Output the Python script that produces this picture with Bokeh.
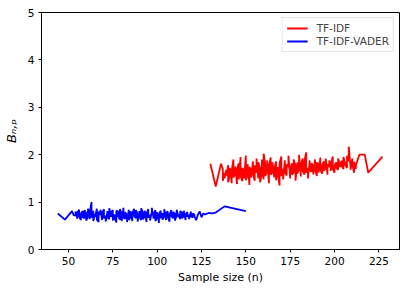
from bokeh.plotting import figure
from bokeh.models import Range1d, FixedTicker, Legend, LegendItem
from bokeh.embed import file_html
from bokeh.resources import INLINE

# TF-IDF-VADER (blue): two runs per sample size in the dense part
blue_n_dense = list(range(54, 122))
blue_x = [44, 48, 52, 53] + [n for n in blue_n_dense for _ in (0, 1)] + \
         [122, 123, 124, 125, 126, 127, 129, 131, 133, 138, 150]
blue_y = [0.76, 0.63, 0.81, 0.72,
          0.72, 0.80, 0.65, 0.78, 0.84, 0.70, 0.62, 0.76, 0.81, 0.68, 0.66, 0.83, 0.77, 0.61, 0.70, 0.86, 0.64, 0.79, 1.00, 0.67,
          0.82, 0.60, 0.75, 0.69, 0.86, 0.63, 0.58, 0.80, 0.73, 0.84, 0.62, 0.77, 0.85, 0.66, 0.71, 0.59, 0.81, 0.68, 0.64, 0.87,
          0.69, 0.78, 0.83, 0.61, 0.74, 0.66, 0.57, 0.82, 0.80, 0.70, 0.63, 0.85, 0.76, 0.60, 0.88, 0.67, 0.65, 0.79, 0.72, 0.58,
          0.84, 0.62, 0.68, 0.81, 0.60, 0.77, 0.86, 0.71, 0.66, 0.83, 0.75, 0.59, 0.81, 0.69, 0.62, 0.87, 0.78, 0.64, 0.70, 0.82,
          0.58, 0.76, 0.85, 0.67, 0.73, 0.61, 0.80, 0.88, 0.65, 0.72, 0.83, 0.60, 0.69, 0.79, 0.56, 0.74, 0.82, 0.66, 0.77, 0.63,
          0.71, 0.85, 0.62, 0.78, 0.80, 0.68, 0.59, 0.74, 0.83, 0.70, 0.66, 0.79, 0.76, 0.61, 0.72, 0.84, 0.68, 0.75, 0.64, 0.81,
          0.78, 0.66, 0.70, 0.82, 0.62, 0.74, 0.79, 0.69, 0.73, 0.64, 0.80, 0.71, 0.67, 0.76, 0.74, 0.70,
          0.62, 0.74, 0.80, 0.68, 0.76, 0.74, 0.77, 0.76, 0.78, 0.91, 0.81]

# TF-IDF (red)
red_n_dense = list(range(137, 213))
red_x = [130, 133, 136] + [n for n in red_n_dense for _ in (0, 1)] + [214, 217, 219, 227]
red_y = [1.81, 1.33, 1.81,
         1.70, 1.45, 1.62, 1.50, 1.68, 1.56, 1.78, 1.42, 1.58, 1.72, 1.40, 1.66, 1.90, 1.52, 1.60, 1.75, 1.38, 1.70, 1.82, 1.48,
         1.95, 1.55, 1.44, 1.72, 1.65, 1.50, 1.98, 1.46, 1.58, 1.80, 1.36, 1.74, 1.68, 1.52, 1.86, 1.60, 1.45, 1.78, 1.62, 1.92,
         1.50, 1.84, 1.72, 1.42, 1.58, 1.90, 1.48, 2.02, 1.80, 1.55, 1.66, 1.88, 1.40, 1.76, 1.94, 1.58, 1.62, 1.84, 1.52, 1.70,
         1.86, 1.46, 1.74, 1.60, 1.35, 1.82, 1.96, 1.55, 1.70, 1.48, 1.88, 1.64, 1.56, 1.80, 1.74, 1.98, 1.50, 1.68, 1.82, 1.58,
         1.62, 1.90, 1.76, 1.45, 1.84, 1.60, 1.70, 2.00, 1.54, 1.78, 1.92, 1.66, 1.58, 1.86, 2.05, 1.62, 1.72, 1.50, 1.88, 1.68,
         1.64, 1.82, 1.76, 1.58, 1.90, 1.70, 1.55, 1.84, 1.80, 1.62, 1.94, 1.68, 1.60, 1.78, 1.86, 1.66, 1.72, 1.92, 1.58, 1.80,
         1.74, 1.88, 1.66, 1.82, 1.96, 1.70, 1.62, 1.78, 1.84, 1.72, 1.68, 1.92, 1.80, 1.74, 1.88, 1.76, 1.70, 1.95, 1.82, 1.78,
         1.72, 1.98, 1.86, 2.17, 1.75, 1.68, 1.92, 1.80, 1.62, 1.85, 1.70, 1.78,
         2.00, 2.00, 1.62, 1.96]

x_ticks = [50, 75, 100, 125, 150, 175, 200, 225]
y_ticks = [0, 1, 2, 3, 4, 5]

FONT = "DejaVu Sans"

p = figure(width=407, height=290, output_backend="svg", toolbar_location=None,
           x_range=Range1d(34.8, 236.6), y_range=Range1d(0, 5),
           min_border_left=39, min_border_right=8, min_border_top=12, min_border_bottom=41)
p.background_fill_color = "white"
p.border_fill_color = "white"
p.outline_line_color = "black"
p.outline_line_width = 1
p.grid.visible = False

r_red = p.line(red_x, red_y, line_color="red", line_width=1.8)
r_blue = p.line(blue_x, blue_y, line_color="blue", line_width=1.8)

for ax in (p.xaxis[0], p.yaxis[0]):
    ax.axis_line_color = "black"
    ax.major_tick_line_color = "black"
    ax.major_tick_out = 3
    ax.major_tick_in = 0
    ax.minor_tick_line_color = None
    ax.major_label_text_font = FONT
    ax.major_label_text_font_size = "10.5px"
    ax.major_label_text_color = "black"
    ax.axis_label_text_font = FONT
    ax.axis_label_text_font_size = "11px"
    ax.axis_label_text_font_style = "normal"
    ax.axis_label_text_color = "black"

p.xaxis[0].ticker = FixedTicker(ticks=x_ticks)
p.yaxis[0].ticker = FixedTicker(ticks=y_ticks)
p.xaxis[0].axis_label = "Sample size (n)"
p.xaxis[0].axis_label_standoff = 3
p.xaxis[0].major_label_standoff = 4
p.yaxis[0].axis_label = "Bₙ,ₚ"
p.yaxis[0].axis_label_text_font_style = "italic"
p.yaxis[0].axis_label_text_font_size = "13px"
p.yaxis[0].axis_label_standoff = 6
p.yaxis[0].major_label_standoff = 4

legend = Legend(items=[LegendItem(label="TF-IDF", renderers=[r_red]),
                       LegendItem(label="TF-IDF-VADER", renderers=[r_blue])],
                location="top_right")
legend.label_text_font = FONT
legend.label_text_font_size = "10.5px"
legend.glyph_width = 21
legend.glyph_height = 12
legend.label_standoff = 9
legend.label_height = 12
legend.spacing = 1
legend.padding = 4
legend.margin = 5
legend.border_line_color = "#cccccc"
legend.border_line_width = 1
legend.background_fill_alpha = 0.8
p.add_layout(legend)

open("out.html", "w").write(file_html(p, INLINE))
